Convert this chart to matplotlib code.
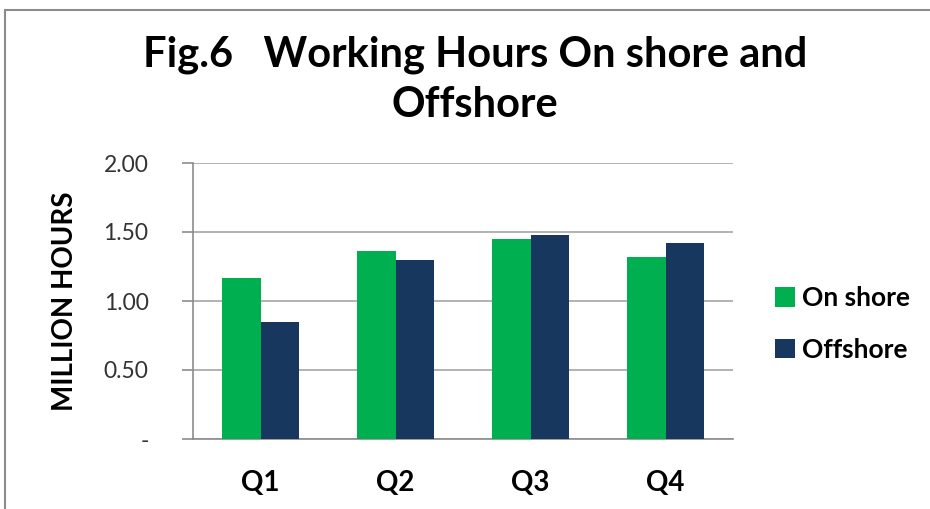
import matplotlib
matplotlib.use("Agg")
import matplotlib.pyplot as plt
from matplotlib.patches import Rectangle
import numpy as np

categories = ["Q1", "Q2", "Q3", "Q4"]
on_shore = [1.17, 1.36, 1.45, 1.32]
offshore = [0.85, 1.30, 1.48, 1.42]
yticks = [0, 0.5, 1.0, 1.5, 2.0]
ytick_labels = ["-", "0.50", "1.00", "1.50", "2.00"]

plt.rcParams['font.family'] = ['Lato', 'DejaVu Sans']

fig = plt.figure(figsize=(9.3, 5.09), dpi=100)
fig.patch.set_facecolor("white")

# chart border (top and left visible)
fig.add_artist(Rectangle((5/930, -0.1), 1.2, 1 - 10/509 + 0.1, transform=fig.transFigure,
                         fill=False, edgecolor="#8c8c8c", linewidth=1.5))

ax = fig.add_axes([193/930, 1 - 439/509, 540/930, 276/509])
x = np.arange(len(categories))
w = 0.285
ax.bar(x - w/2, on_shore, w, color="#00B050", label="On shore", zorder=3)
ax.bar(x + w/2, offshore, w, color="#17375E", label="Offshore", zorder=3)

ax.set_xlim(-0.5, 3.5)
ax.set_ylim(0, 2.0)
ax.set_yticks(yticks)
ax.set_yticklabels(ytick_labels, fontsize=16.5, color="#333333")
ax.set_xticks(x)
ax.set_xticklabels(categories, fontsize=20, fontweight="bold")
ax.tick_params(axis="x", length=0, pad=22)
ax.tick_params(axis="y", length=8, color="#8c8c8c", width=1.2, pad=24)
ax.grid(axis="y", color="#a6a6a6", linewidth=1.2, zorder=0)
for s in ["top", "right"]:
    ax.spines[s].set_visible(False)
for s in ["left", "bottom"]:
    ax.spines[s].set_color("#8c8c8c")
    ax.spines[s].set_linewidth(1.2)

ax.set_ylabel("MILLION HOURS", fontsize=20, fontweight="bold")
ax.yaxis.set_label_coords((78 - 193) / 540, 0.5)

fig.text(475/930, 1 - 80/509, "Fig.6   Working Hours On shore and\nOffshore",
         ha="center", va="center", fontsize=30, fontweight="bold", linespacing=1.38)

leg = fig.legend(loc="center left", bbox_to_anchor=(751/930, 1 - 324/509),
                 frameon=False, fontsize=19, handlelength=0.75, handleheight=0.75,
                 handletextpad=0.3, labelspacing=1.05)
for t in leg.get_texts():
    t.set_fontweight("bold")

fig.savefig("out.png", dpi=100, facecolor="white")
